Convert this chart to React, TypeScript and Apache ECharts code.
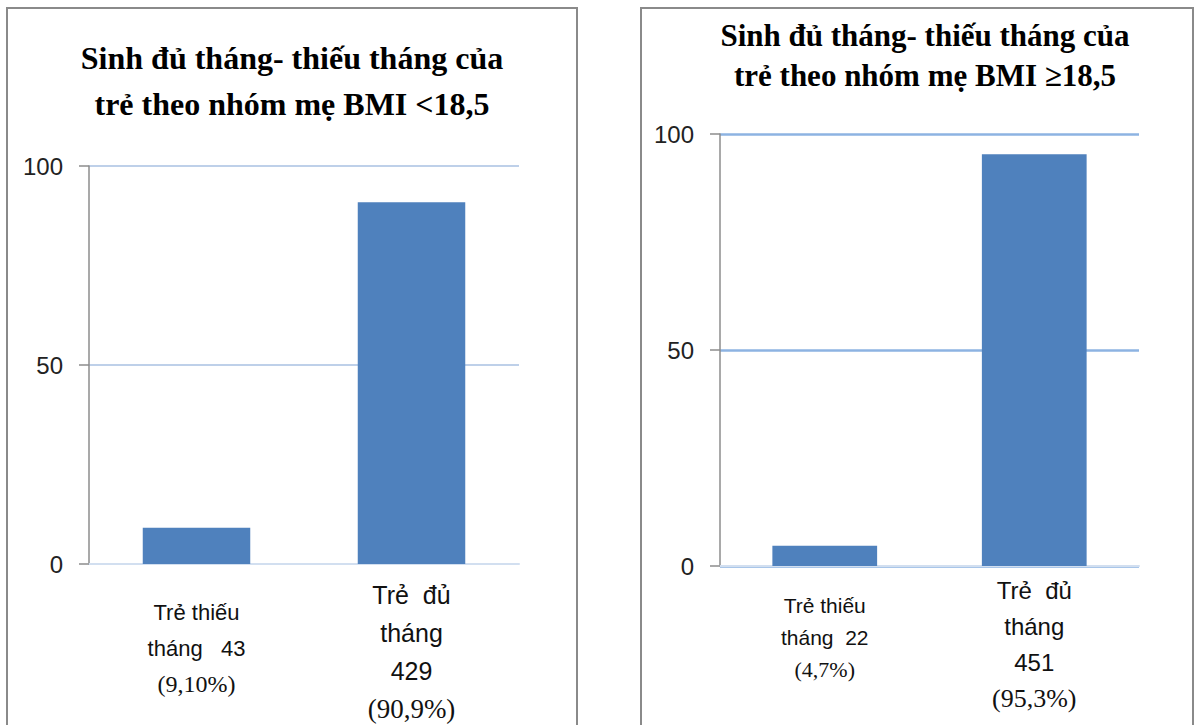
import React, { useEffect, useRef } from "react";
import * as echarts from "echarts";

// Two bar charts: full-term vs pre-term births by mother's BMI group
const leftTitle = "Sinh đủ tháng- thiếu tháng của\ntrẻ theo nhóm mẹ BMI <18,5";
const rightTitle = "Sinh đủ tháng- thiếu tháng của\ntrẻ theo nhóm mẹ BMI ≥18,5";

const leftCategories = ["Trẻ thiếu\ntháng   43\n(9,10%)", "Trẻ  đủ\ntháng\n429\n(90,9%)"];
const rightCategories = ["Trẻ thiếu\ntháng  22\n(4,7%)", "Trẻ  đủ\ntháng\n451\n(95,3%)"];

const leftValues = [9.1, 90.9];
const rightValues = [4.7, 95.3];

const yMin = 0;
const yMax = 100;
const yStep = 50;

const SANS = "'Liberation Sans', Arial, sans-serif";
const SERIF = "'Liberation Serif', 'Times New Roman', serif";
const BAR = "#4f81bd";

type PanelCfg = {
  title: string;
  titleX: number;
  titleTop: number;
  titleSize: number;
  titleLH: number;
  categories: string[];
  values: number[];
  grid: { left: number; top: number; width: number; height: number };
  gridColor: string;
  gridWidth: number;
  labelMargin: number;
  firstPad: number;
  sizes: { s0: number; p0: number; lh0: number; s1: number; p1: number; lh1: number };
};

function buildOption(c: PanelCfg): echarts.EChartsOption {
  const rich: Record<string, any> = {
    s0: { fontFamily: SANS, fontSize: c.sizes.s0, lineHeight: c.sizes.lh0, color: "#111" },
    p0: { fontFamily: SERIF, fontSize: c.sizes.p0, lineHeight: c.sizes.lh0, color: "#111" },
    s1: { fontFamily: SANS, fontSize: c.sizes.s1, lineHeight: c.sizes.lh1, color: "#111" },
    p1: { fontFamily: SERIF, fontSize: c.sizes.p1, lineHeight: c.sizes.lh1, color: "#111" },
  };
  return {
    animation: false,
    backgroundColor: "#ffffff",
    title: {
      text: c.title,
      left: c.titleX,
      top: c.titleTop,
      textAlign: "center",
      padding: 0,
      textStyle: {
        fontFamily: SERIF,
        fontWeight: "bold",
        fontSize: c.titleSize,
        lineHeight: c.titleLH,
        color: "#000",
      },
    },
    grid: { ...c.grid, containLabel: false },
    xAxis: {
      type: "category",
      data: c.categories.map((v, i) =>
        i === 0 ? { value: v, textStyle: { padding: [c.firstPad, 0, 0, 0] } } : v
      ) as any,
      axisTick: { show: false },
      axisLine: { show: true, lineStyle: { color: "#d2dff0", width: 2 } },
      axisLabel: {
        interval: 0,
        margin: c.labelMargin,
        verticalAlign: "top",
        formatter: (val: string) => {
          const idx = c.categories.indexOf(val);
          const k = idx < 0 ? 0 : idx;
          return val
            .split("\n")
            .map((line) => {
              const style = line.startsWith("(") ? `p${k}` : `s${k}`;
              return `{${style}|${line}}`;
            })
            .join("\n");
        },
        rich,
      },
    },
    yAxis: {
      type: "value",
      min: yMin,
      max: yMax,
      interval: yStep,
      axisLine: { show: true, lineStyle: { color: "#8c8c8c", width: 1.5 } },
      axisTick: { show: true, length: 10, lineStyle: { color: "#8c8c8c", width: 1.5 } },
      axisLabel: { margin: 26, fontFamily: SANS, fontSize: 24, color: "#222" },
      splitLine: { show: true, lineStyle: { color: c.gridColor, width: c.gridWidth } },
    },
    series: [
      {
        type: "bar",
        data: c.values,
        barWidth: "50%",
        itemStyle: { color: BAR },
        silent: true,
      },
    ],
  };
}

function ChartPanel({
  cfg,
  left,
  width,
}: {
  cfg: PanelCfg;
  left: number;
  width: number;
}) {
  const ref = useRef<HTMLDivElement>(null);
  useEffect(() => {
    if (!ref.current) return;
    const chart = echarts.init(ref.current, undefined, { renderer: "svg" });
    chart.setOption(buildOption(cfg));
    return () => chart.dispose();
  }, [cfg]);
  return (
    <div
      style={{
        position: "absolute",
        left,
        top: 7,
        width,
        height: 730,
        border: "2px solid #8a8a8a",
        background: "#fff",
        boxSizing: "content-box",
      }}
    >
      <div ref={ref} style={{ width, height: 730 }} />
    </div>
  );
}

const leftCfg: PanelCfg = {
  title: leftTitle,
  titleX: 284,
  titleTop: 26,
  titleSize: 32,
  titleLH: 46,
  categories: leftCategories,
  values: leftValues,
  grid: { left: 81, top: 157, width: 430, height: 398 },
  gridColor: "#a9c0e2",
  gridWidth: 1.5,
  labelMargin: 12,
  firstPad: 19,
  sizes: { s0: 22, p0: 24, lh0: 35.5, s1: 25, p1: 27, lh1: 38 },
};

const rightCfg: PanelCfg = {
  title: rightTitle,
  titleX: 283,
  titleTop: 6,
  titleSize: 31,
  titleLH: 40,
  categories: rightCategories,
  values: rightValues,
  grid: { left: 78, top: 125, width: 419, height: 432 },
  gridColor: "#8db3e2",
  gridWidth: 2.5,
  labelMargin: 6,
  firstPad: 17,
  sizes: { s0: 21, p0: 22, lh0: 32, s1: 24, p1: 26, lh1: 36 },
};

export default function App() {
  return (
    <div
      style={{
        position: "fixed",
        left: 0,
        top: 0,
        width: 1197,
        height: 725,
        overflow: "hidden",
        background: "#fff",
      }}
    >
      <ChartPanel cfg={leftCfg} left={6} width={568} />
      <ChartPanel cfg={rightCfg} left={640} width={550} />
    </div>
  );
}
